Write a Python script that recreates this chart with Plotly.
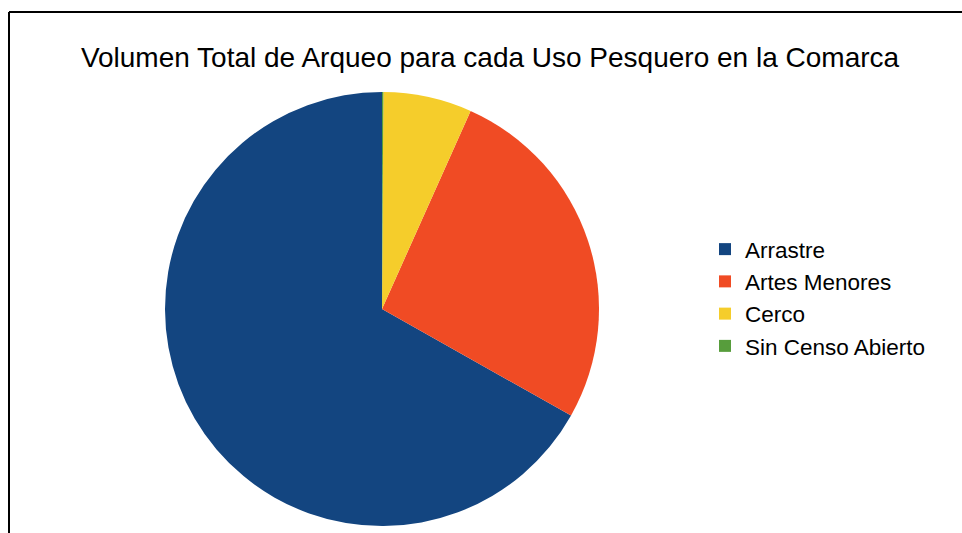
import plotly.graph_objects as go

# Share of total tonnage per fishing gear type
usos = ["Arrastre", "Artes Menores", "Cerco", "Sin Censo Abierto"]
volumen = [66.9, 26.5, 6.6, 0.1]
colores = ["#134580", "#F04B24", "#F5CD2B", "#579D3C"]

W, H = 962, 533

# Plotly's counterclockwise mode places the first slice clockwise from the
# rotation angle; rotate so that the first slice instead begins at 12 o'clock
# and the rest follow counterclockwise.
inicio = 360 * (1 - volumen[0] / sum(volumen))

fig = go.Figure(
    go.Pie(
        labels=usos,
        values=volumen,
        sort=False,
        direction="counterclockwise",
        rotation=inicio,
        textinfo="none",
        hoverinfo="label+percent",
        marker=dict(colors=colores, line=dict(width=0)),
        domain=dict(x=[165 / W, 599 / W], y=[1 - 526 / H, 1 - 92 / H]),
    )
)

fig.update_layout(
    width=W,
    height=H,
    margin=dict(l=0, r=0, t=0, b=0),
    paper_bgcolor="white",
    plot_bgcolor="white",
    font=dict(family="Liberation Sans, Arial, sans-serif", color="black"),
    title=dict(
        text="Volumen Total de Arqueo para cada Uso Pesquero en la Comarca",
        x=490 / W,
        xanchor="center",
        y=1 - 57 / H,
        yanchor="middle",
        font=dict(size=28, color="black"),
    ),
    legend=dict(
        x=705 / W,
        xanchor="left",
        y=1 - 228 / H,
        yanchor="top",
        font=dict(size=22.5, color="black"),
        itemwidth=30,
        bgcolor="rgba(0,0,0,0)",
    ),
    shapes=[
        dict(type="line", xref="paper", yref="paper",
             x0=9 / W, x1=1.01, y0=1 - 12 / H, y1=1 - 12 / H,
             line=dict(color="black", width=2)),
        dict(type="line", xref="paper", yref="paper",
             x0=9 / W, x1=9 / W, y0=-0.01, y1=1 - 12 / H,
             line=dict(color="black", width=2)),
    ],
)

fig.write_html("out.html")
